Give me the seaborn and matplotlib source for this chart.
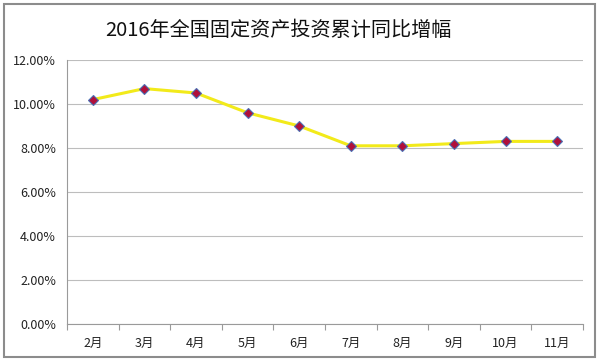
import matplotlib
matplotlib.use("Agg")
import matplotlib.pyplot as plt
import seaborn as sns
import pandas as pd
from matplotlib.ticker import FuncFormatter, FixedLocator
from matplotlib.patches import Rectangle

months = ["2月", "3月", "4月", "5月", "6月", "7月", "8月", "9月", "10月", "11月"]
growth = [10.2, 10.7, 10.5, 9.6, 9.0, 8.1, 8.1, 8.2, 8.3, 8.3]
title = "2016年全国固定资产投资累计同比增幅"

sns.set_theme(style="white")
plt.rcParams['font.family'] = ['Noto Sans CJK SC', 'DejaVu Sans']

df = pd.DataFrame({"month": months, "growth": growth})
df["x"] = range(len(months))

fig = plt.figure(figsize=(6, 3.64), dpi=100)
ax = fig.add_axes([67/600, 1-324/364, (583-67)/600, (324-60)/364])

sns.lineplot(data=df, x="x", y="growth", ax=ax, color="#F2EA1A", linewidth=2.2,
             marker="D", markersize=5, markerfacecolor="#B0103A",
             markeredgecolor="#4A6FB5", markeredgewidth=0.8, zorder=3)

ax.set_xlim(-0.5, len(months) - 0.5)
ax.set_ylim(0, 12)
ax.set_yticks([0, 2, 4, 6, 8, 10, 12])
ax.yaxis.set_major_formatter(FuncFormatter(lambda v, p: f"{v:.2f}%"))
ax.set_xticks(range(len(months)))
ax.set_xticklabels(months)
ax.xaxis.set_minor_locator(FixedLocator([i - 0.5 for i in range(len(months) + 1)]))
ax.tick_params(axis="x", which="major", length=0, pad=9, labelsize=9, colors="#222222")
ax.tick_params(axis="x", which="minor", length=4, color="#9a9a9a", width=0.8, direction="out")
ax.tick_params(axis="y", which="major", length=4, color="#9a9a9a", width=0.8,
               labelsize=9, colors="#222222", pad=4, direction="out")
ax.tick_params(axis="x", which="minor", bottom=True)
ax.set_xlabel("")
ax.set_ylabel("")
ax.grid(axis="y", color="#bdbdbd", linewidth=0.8)
ax.set_axisbelow(True)
for side in ["top", "right"]:
    ax.spines[side].set_visible(False)
for side in ["left", "bottom"]:
    ax.spines[side].set_color("#9a9a9a")
    ax.spines[side].set_linewidth(0.8)

fig.text(278/600, 1-30/364, title, ha="center", va="center", fontsize=14.5, color="#111111")

fig.patches.append(Rectangle((4/600, 1-357/364), (595-4)/600, (357-4)/364,
                             transform=fig.transFigure, fill=False,
                             edgecolor="#8c8c8c", linewidth=1.5))

fig.savefig("out.png", dpi=100, facecolor="white")
